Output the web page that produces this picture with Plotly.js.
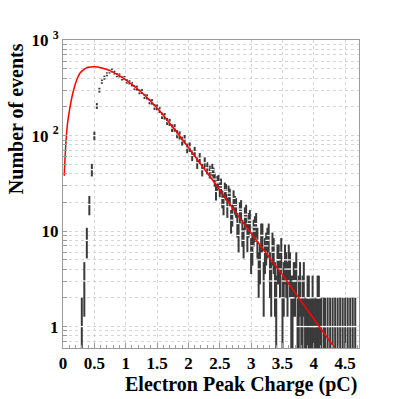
<!DOCTYPE html>
<html>
<head>
<meta charset="utf-8">
<script src="https://cdn.plot.ly/plotly-3.0.1.min.js"></script>
<style>
  html, body { margin: 0; padding: 0; background: #fff; }
  #chart { width: 399px; height: 399px; }
</style>
</head>
<body>
<div id="chart"></div>
<script>
// histogram bins (pC) with non-zero content, and their counts
const chargeBins = [
  0.30, 0.34, 0.38, 0.42, 0.46, 0.50, 0.54, 0.58, 0.62, 0.66,
  0.70, 0.74, 0.78, 0.82, 0.86, 0.90, 0.94, 0.98, 1.02, 1.06,
  1.10, 1.14, 1.18, 1.22, 1.26, 1.30, 1.34, 1.38, 1.42, 1.46,
  1.50, 1.54, 1.58, 1.62, 1.66, 1.70, 1.74, 1.78, 1.82, 1.86,
  1.90, 1.94, 1.98, 2.02, 2.06, 2.10, 2.14, 2.18, 2.22, 2.26,
  2.30, 2.34, 2.38, 2.42, 2.46, 2.50, 2.54, 2.58, 2.62, 2.66,
  2.70, 2.74, 2.78, 2.82, 2.86, 2.90, 2.94, 2.98, 3.02, 3.06,
  3.10, 3.14, 3.18, 3.22, 3.26, 3.30, 3.34, 3.38, 3.42, 3.46,
  3.50, 3.54, 3.58, 3.62, 3.66, 3.70, 3.74, 3.78, 3.82, 3.86,
  3.90, 3.94, 3.98, 4.02, 4.06, 4.10, 4.18, 4.22, 4.30, 4.38,
  4.42, 4.50, 4.58, 4.62, 4.66
];
const eventCounts = [
  1, 3, 8, 19, 44, 100, 205, 300, 368, 405,
  440, 468, 480, 458, 430, 428, 398, 402, 370, 362,
  346, 318, 315, 288, 290, 258, 255, 228, 226, 200,
  198, 186, 162, 160, 141, 138, 120, 121, 104, 101,
  88, 92, 74, 76, 62, 68, 52, 58, 44, 52,
  46, 42, 44, 35, 32, 28, 22, 27, 18, 23,
  15, 19, 12, 16, 10, 14, 9, 13, 7, 11,
  8, 5, 9, 6, 8, 4, 7, 3, 5, 4,
  2, 5, 3, 4, 2, 3, 1, 3, 2, 1,
  2, 1, 2, 1, 2, 1, 1, 1, 1, 1,
  1, 1, 1, 1, 1
];

// extra bins in the crowded tail
const tailBins = [
  2.40, 2.44, 2.48, 2.52, 2.56, 2.60, 2.64, 2.68, 2.72, 2.76,
  2.80, 2.84, 2.88, 2.92, 2.96, 3.00, 3.04, 3.08, 3.12, 3.16,
  3.20, 3.24, 3.28, 3.32, 3.36, 3.40, 3.44, 3.48, 3.52, 3.56,
  3.60, 3.64, 3.68, 3.72, 3.76, 3.80, 3.84, 3.88, 3.92, 3.96,
  4.00, 4.04, 4.08, 4.12, 4.16, 4.26, 4.34, 4.46, 4.54
];
const tailCounts = [
  40, 26, 33, 30, 19, 26, 25, 13, 22, 18,
  9, 17, 8, 15, 12, 6, 10, 12, 4, 9,
  3, 7, 9, 3, 6, 2, 5, 6, 3, 4,
  5, 2, 3, 4, 2, 1, 3, 1, 2, 1,
  1, 1, 2, 1, 1, 1, 1, 1, 1
];

// fitted curve
const fitCharge = [0.02, 0.04, 0.07, 0.11, 0.16, 0.22, 0.27, 0.33, 0.40, 0.50,
  0.62, 0.75, 1.00, 1.25, 1.50, 1.75, 2.00, 2.25, 2.50, 2.75,
  3.00, 3.25, 3.50, 3.75, 4.00, 4.25, 4.50];
const fitEvents = [38, 72, 130, 196, 285, 385, 450, 492, 520, 528,
  512, 480, 385, 285, 195, 123, 75, 45, 27, 15.8,
  9.5, 5.75, 3.47, 2.04, 1.2, 0.71, 0.42];

const yDecades = [1, 10, 100, 1000];
const yDecadeLabels = ['1', '10', '10 <sup>2</sup>', '10 <sup>3</sup>'];

// log grid: every multiple 1..9 of each decade, label only the decades
const yTickVals = [0.6, 0.7, 0.8, 0.9];
const yTickText = ['', '', '', ''];
yDecades.forEach((d, i) => {
  const top = i === yDecades.length - 1 ? 1 : 9;
  for (let m = 1; m <= top; m++) {
    yTickVals.push(d * m);
    yTickText.push(m === 1 ? yDecadeLabels[i] : '');
  }
});

const serif = 'Liberation Serif, Times New Roman, serif';
const gridColor = '#d4d4d4';
const frameColor = '#9a9a9a';

const allBins = chargeBins.concat(tailBins);
const allCounts = eventCounts.concat(tailCounts);

const histTrace = {
  x: allBins,
  y: allCounts,
  type: 'scatter',
  mode: 'markers',
  marker: { symbol: 'line-ew', size: 3, color: '#fff', line: { color: '#fff', width: 1.2 } },
  error_y: {
    type: 'data',
    array: allCounts.map(Math.sqrt),
    visible: true,
    color: '#3a3a3a',
    thickness: 2,
    width: 0
  },
  hoverinfo: 'x+y'
};

const fitTrace = {
  x: fitCharge,
  y: fitEvents,
  type: 'scatter',
  mode: 'lines',
  line: { color: '#ff0000', width: 1.5, shape: 'spline', smoothing: 1 },
  hoverinfo: 'skip'
};

const layout = {
  width: 399,
  height: 399,
  margin: { l: 63, r: 40, t: 40, b: 51 },
  paper_bgcolor: '#fff',
  plot_bgcolor: '#fff',
  showlegend: false,
  xaxis: {
    range: [0, 4.72],
    tickmode: 'linear',
    tick0: 0,
    dtick: 0.5,
    ticks: 'inside',
    ticklen: 5,
    tickcolor: frameColor,
    showgrid: true,
    gridcolor: gridColor,
    griddash: 'dot',
    gridwidth: 1,
    minor: { dtick: 0.1, tick0: 0, ticks: 'inside', ticklen: 3, tickcolor: frameColor, showgrid: false },
    zeroline: false,
    showline: true,
    mirror: true,
    linecolor: frameColor,
    linewidth: 1,
    tickfont: { family: serif, size: 17, color: '#000', weight: 'bold' }
  },
  yaxis: {
    type: 'log',
    range: [Math.log10(0.596), 3.002],
    tickmode: 'array',
    tickvals: yTickVals,
    ticktext: yTickText,
    ticks: 'inside',
    ticklen: 4,
    tickcolor: frameColor,
    showgrid: true,
    gridcolor: gridColor,
    griddash: 'dot',
    gridwidth: 1,
    zeroline: false,
    showline: true,
    mirror: true,
    linecolor: frameColor,
    linewidth: 1,
    tickfont: { family: serif, size: 17, color: '#000', weight: 'bold' }
  },
  annotations: [
    {
      text: 'Electron Peak Charge (pC)',
      xref: 'paper', yref: 'paper',
      x: 1, y: -0.118,
      xanchor: 'right', yanchor: 'middle',
      showarrow: false,
      font: { family: serif, size: 20, color: '#000', weight: 'bold' }
    },
    {
      text: 'Number of events',
      xref: 'paper', yref: 'paper',
      x: -0.16, y: 0.745,
      xanchor: 'center', yanchor: 'middle',
      textangle: -90,
      showarrow: false,
      font: { family: serif, size: 20, color: '#000', weight: 'bold' }
    }
  ]
};

Plotly.newPlot('chart', [histTrace, fitTrace], layout, { staticPlot: true, displayModeBar: false });
</script>
</body>
</html>
